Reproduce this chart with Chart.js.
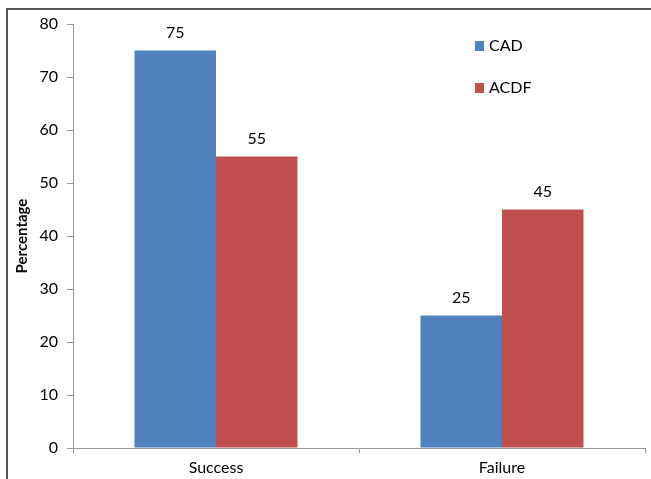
<!DOCTYPE html>
<html>
<head>
<meta charset="utf-8">
<script src="https://cdn.jsdelivr.net/npm/chart.js@4/dist/chart.umd.min.js"></script>
<style>
  html, body { margin: 0; padding: 0; background: #fff; }
  #wrap { position: relative; width: 651px; height: 479px; }
  #frame { position: absolute; left: 6px; top: 8px; right: -4px; bottom: -4px; border-left: 2px solid #555; border-top: 2px solid #555; pointer-events: none; }
</style>
</head>
<body>
<div id="wrap">
  <canvas id="chart" width="651" height="479"></canvas>
  <div id="frame"></div>
</div>
<script>
// chart data
const categories = ["Success", "Failure"];
const cadValues = [75, 25];
const acdfValues = [55, 45];
const yTicks = [0, 10, 20, 30, 40, 50, 60, 70, 80];

const FONT = "Lato, 'Liberation Sans', sans-serif";

// value labels on top of each bar
const barLabels = {
  id: "barLabels",
  afterDatasetsDraw(chart) {
    const ctx = chart.ctx;
    ctx.save();
    ctx.font = "16px " + FONT;
    ctx.fillStyle = "#000";
    ctx.textAlign = "center";
    ctx.textBaseline = "middle";
    chart.data.datasets.forEach((ds, i) => {
      chart.getDatasetMeta(i).data.forEach((bar, j) => {
        ctx.fillText(ds.data[j], bar.x, bar.y - 18);
      });
    });
    ctx.restore();
  }
};

// legend drawn inside the plot, top right
const sideLegend = {
  id: "sideLegend",
  afterDraw(chart) {
    const ctx = chart.ctx;
    ctx.save();
    ctx.font = "16px " + FONT;
    ctx.textBaseline = "middle";
    chart.data.datasets.forEach((ds, i) => {
      const y = 46 + i * 42;
      ctx.fillStyle = ds.backgroundColor;
      ctx.fillRect(475, y - 5, 9, 10);
      ctx.fillStyle = "#000";
      ctx.fillText(ds.label, 489, y);
    });
    ctx.restore();
  }
};

new Chart(document.getElementById("chart"), {
  type: "bar",
  data: {
    labels: categories,
    datasets: [
      { label: "CAD", data: cadValues, backgroundColor: "#4F81BD" },
      { label: "ACDF", data: acdfValues, backgroundColor: "#C0504D" }
    ]
  },
  options: {
    responsive: false,
    animation: false,
    layout: { padding: { top: 24, right: 6, left: 0, bottom: 0 } },
    datasets: { bar: { barPercentage: 1, categoryPercentage: 0.57 } },
    plugins: { legend: { display: false }, tooltip: { enabled: false } },
    scales: {
      x: {
        afterFit: s => { s.height = 31; },
        border: { color: "#999", width: 1 },
        grid: { drawOnChartArea: false, drawTicks: true, tickLength: 5, color: "#999", offset: true },
        ticks: { color: "#000", padding: 5, font: { family: FONT, size: 16 } }
      },
      y: {
        min: 0,
        max: 80,
        afterFit: s => { s.width = 73; },
        afterBuildTicks: s => { s.ticks = yTicks.map(v => ({ value: v })); },
        border: { color: "#999", width: 1 },
        grid: { drawOnChartArea: false, drawTicks: true, tickLength: 6, color: "#999" },
        ticks: { color: "#000", padding: 9, font: { family: FONT, size: 16 } },
        title: { display: true, text: "Percentage", color: "#000", padding: { top: 13, bottom: 0 }, font: { family: FONT, size: 15, weight: "bold" } }
      }
    }
  },
  plugins: [barLabels, sideLegend]
});
</script>
</body>
</html>
